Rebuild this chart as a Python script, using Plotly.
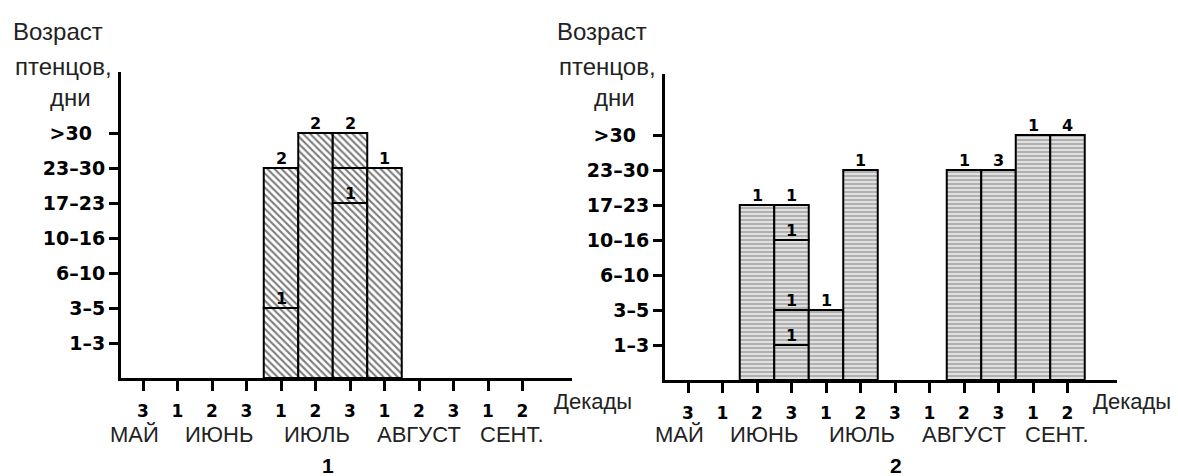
import plotly.graph_objects as go

# ---------------- data ----------------
decades = ["3", "1", "2", "3", "1", "2", "3", "1", "2", "3", "1", "2"]
months = ["МАЙ", "ИЮНЬ", "ИЮЛЬ", "АВГУСТ", "СЕНТ."]
month_first_decade = [0, 1, 4, 7, 10]
month_last_decade = [0, 3, 6, 9, 11]
age_classes = ["1–3", "3–5", "6–10", "10–16", "17–23", "23–30", ">30"]

# panel 1: segments (decade index, age-class level reached, number of nestlings)
p1_decade = [4, 4, 5, 6, 6, 6, 7]
p1_level = [2, 6, 7, 5, 6, 7, 6]
p1_count = ["1", "2", "2", "1", "", "2", "1"]

# panel 2
p2_decade = [2, 3, 3, 3, 3, 4, 5, 8, 9, 10, 11]
p2_level = [5, 1, 2, 4, 5, 2, 6, 6, 6, 7, 7]
p2_count = ["1", "1", "1", "1", "1", "1", "1", "1", "3", "1", "4"]

panel_titles = ["1", "2"]

# ---------------- layout helpers ----------------
W, H = 1178, 476
month_label_shift = [-0.25, 0.2, 0.05, 0.0, 0.2]  # small visual nudges (axis units)


def px(x):
    return x / W


def py(y):
    return 1 - y / H


def bases(dec, lev):
    out = []
    last = {}
    for d, l in zip(dec, lev):
        out.append(last.get(d, 0))
        last[d] = l
    return out


fig = go.Figure()

tick_font = dict(family="DejaVu Sans", size=19, color="black", weight="bold")
dec_font = dict(family="DejaVu Sans", size=17, color="black", weight="bold")
cnt_font = dict(family="DejaVu Sans", size=16, color="black", weight="bold")
txt_font = "Liberation Sans, Arial, sans-serif"

panels = [
    dict(dec=p1_decade, lev=p1_level, cnt=p1_count, xa="x", ya="y",
         pattern=dict(shape="\\", fgcolor="black", bgcolor="white", size=5, solidity=0.42)),
    dict(dec=p2_decade, lev=p2_level, cnt=p2_count, xa="x2", ya="y2",
         pattern=dict(shape="-", fgcolor="#7a7a7a", bgcolor="#e6e6e6", size=4, solidity=0.55)),
]

annotations = []
for p in panels:
    b = bases(p["dec"], p["lev"])
    fig.add_trace(go.Bar(
        x=p["dec"], y=[l - bb for l, bb in zip(p["lev"], b)], base=b,
        width=1.0, xaxis=p["xa"], yaxis=p["ya"],
        marker=dict(color="white", pattern=p["pattern"],
                    line=dict(color="black", width=2)),
        showlegend=False, hoverinfo="skip",
    ))
    for d, l, c in zip(p["dec"], p["lev"], p["cnt"]):
        if c:
            annotations.append(dict(x=d, y=l, xref=p["xa"], yref=p["ya"], text=c,
                                    showarrow=False, yanchor="bottom", yshift=-2,
                                    font=cnt_font))

# geometry of the two panels (pixels)
geo = [
    dict(x0=121, x1=572, y0=378, y1=72, t0=143, step=34.5, dek=553),
    dict(x0=665, x1=1117, y0=380, y1=74, t0=688, step=34.5, dek=1092),
]

axis_common = dict(showline=True, linewidth=3, linecolor="black", ticks="outside",
                   ticklen=10, tickwidth=3, tickcolor="black", showgrid=False,
                   zeroline=False, fixedrange=True)

for i, g in enumerate(geo):
    sfx = "" if i == 0 else str(i + 1)
    xr = [(g["x0"] - g["t0"]) / g["step"], (g["x1"] - g["t0"]) / g["step"]]
    yr = [0, (g["y0"] - g["y1"]) / 35.0]
    fig.update_layout(**{
        "xaxis" + sfx: dict(axis_common, domain=[px(g["x0"]), px(g["x1"])], range=xr,
                            tickmode="array", tickvals=list(range(len(decades))),
                            ticktext=decades, tickfont=dec_font,
                            ticklabelstandoff=6, anchor="y" + sfx),
        "yaxis" + sfx: dict(axis_common, domain=[py(g["y0"]), py(g["y1"])], range=yr,
                            tickmode="array", tickvals=list(range(1, len(age_classes) + 1)),
                            ticktext=[a if a != ">30" else ">30\u00a0\u00a0" for a in age_classes],
                            tickfont=tick_font, ticklen=9, anchor="x" + sfx),
    })
    xa = "x" + sfx
    for m, a, bnd, sh in zip(months, month_first_decade, month_last_decade, month_label_shift):
        annotations.append(dict(x=(a + bnd) / 2 + sh, y=py(434), xref=xa, yref="paper",
                                text=m, showarrow=False, yanchor="middle",
                                font=dict(family=txt_font, size=22, color="#222")))
    # "Декады"
    annotations.append(dict(x=px(g["dek"]), y=py(401), xref="paper", yref="paper",
                            text="Декады", showarrow=False, xanchor="left", yanchor="middle",
                            borderpad=0,
                            font=dict(family=txt_font, size=22, color="#222")))
    # y title lines
    off = g["x0"] - 121
    for txt, cx, cy in [("Возраст", 58, 32), ("птенцов,", 63, 67), ("дни", 70, 98)]:
        annotations.append(dict(x=px(cx + off), y=py(cy), xref="paper", yref="paper",
                                text=txt, showarrow=False, xanchor="center", yanchor="middle",
                                font=dict(family=txt_font, size=24, color="#222")))
    # panel number
    annotations.append(dict(x=px(320 if i == 0 else 904), y=py(465), xref="paper", yref="paper",
                            text=panel_titles[i], showarrow=False, yanchor="middle",
                            font=dict(family="Liberation Sans", size=21, color="black",
                                      weight="bold")))

fig.update_layout(width=W, height=H, margin=dict(l=0, r=0, t=0, b=0),
                  paper_bgcolor="white", plot_bgcolor="white", barmode="overlay",
                  annotations=annotations)

fig.write_html("out.html", config={"displayModeBar": False},
               post_script="document.body.style.margin='0';document.body.style.overflow='hidden';")
